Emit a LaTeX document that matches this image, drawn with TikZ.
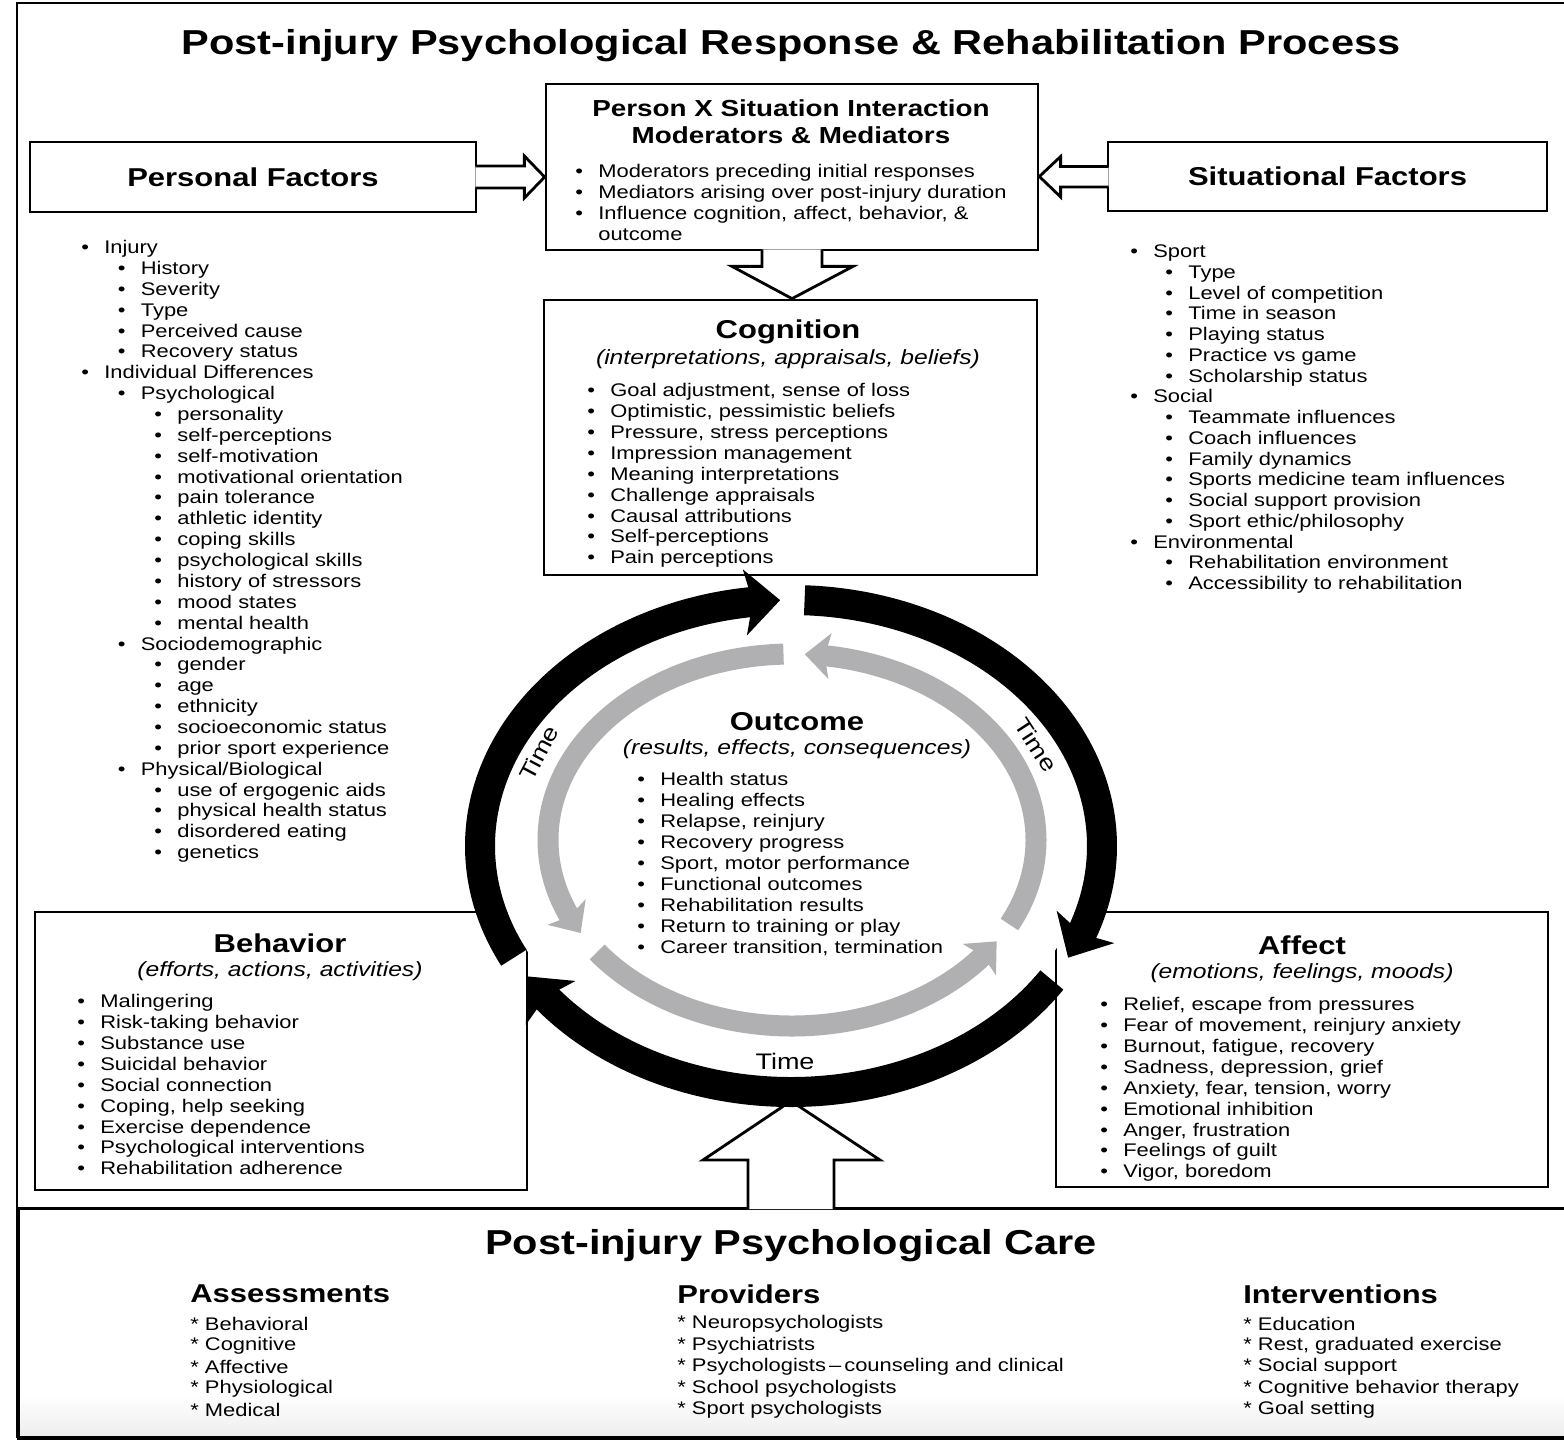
\documentclass[tikz,border=0pt]{standalone}
\usepackage{fontspec}
\setmainfont{Liberation Sans}[FakeStretch=1.2]
\usetikzlibrary{arrows.meta,bending}

\newlength\pxl
\setlength\pxl{0.02cm}
\newcommand\bul{\strut\makebox[23\pxl][l]{\textbullet}}
\definecolor{ringgrey}{RGB}{176,176,178}

\tikzset{
  frame/.style={draw, line width=1.6pt},
  box/.style={frame, inner sep=0pt},
  hollow/.style={line width=1.6pt, fill=white, line join=miter},
  hdr/.style={inner sep=0pt, font=\bfseries\fontsize{14.7}{17}\selectfont},
  sub/.style={inner sep=0pt, font=\itshape\fontsize{11.7}{14}\selectfont},
  item/.style={anchor=west, inner sep=0pt, font=\fontsize{10.4}{11.83}\selectfont},
  timelbl/.style={inner sep=0pt, font=\fontsize{12.8}{15}\selectfont},
  blackband/.style={line width=0.6cm, -{Stealth[length=0.7cm,width=1.3cm,inset=0.15cm]}},
  greyband/.style={ringgrey, line width=0.42cm, -{Stealth[length=0.5cm,width=0.9cm,inset=0.1cm]}},
}

\begin{document}
\begin{tikzpicture}[x=0.02cm, y=-0.02cm]
\useasboundingbox (0,0) rectangle (1564,1440);

% frame and care panel
\fill[top color=white, bottom color=black!7] (17,1395) rectangle (1564,1437);
\draw[frame] (17,3) rectangle (1590,1437);
\node[box, anchor=north west, minimum width=31.5cm, minimum height=4.6cm] (care) at (17,1207) {};

% boxes
\node[box, minimum width=9.84cm, minimum height=3.32cm] (pxs) at (792,167) {};
\node[box, minimum width=9.86cm, minimum height=5.5cm] (cog) at (790.5,437.5) {};
\node[box, hdr, minimum width=8.92cm, minimum height=1.4cm] (pers) at (253,177) {Personal Factors};
\node[box, hdr, minimum width=8.78cm, minimum height=1.38cm] (sit) at (1327.5,176.5) {Situational Factors};
\node[box, minimum width=9.84cm, minimum height=5.56cm] (beh) at (281,1051) {};
\node[box, minimum width=9.84cm, minimum height=5.5cm] (aff) at (1302,1049.5) {};

% hollow arrows
\filldraw[hollow] ([shift={(-2,-11)}]pers.east) -- ++(49,0) -- ++(0,-10) -- (pers.east -| pxs.west)
  -- ([shift={(47,21)}]pers.east) -- ++(0,-10) -- ++(-49,0);
\filldraw[hollow] ([shift={(2,-10)}]sit.west) -- ++(-48,0) -- ++(0,-10) -- (sit.west -| pxs.east)
  -- ([shift={(-46,20.5)}]sit.west) -- ++(0,-10) -- ++(48,0);
\filldraw[hollow] ([shift={(-30,-2)}]pxs.south) -- ++(0,17) -- ++(-30,0) -- (pxs.south |- cog.north)
  -- ([shift={(61,15)}]pxs.south) -- ++(-31,0) -- ++(0,-17);

\coordinate (ringc) at (791,846);
\coordinate (greyc) at (792,840);
\coordinate (ringbot) at (791,1101);
\coordinate (carein) at (care.north -| ringbot);
\filldraw[hollow] ([shift={(-43,2)}]carein) -- ++(0,-49) -- ++(-45,0) -- (ringbot)
  -- ([shift={(89,-47)}]carein) -- ++(-46,0) -- ++(0,49);

% time ring
\fill[white] (ringc) ellipse [x radius=296, y radius=231];
\foreach \a/\b in {-207/-92, -87.5/27, 33/148}
  \draw[blackband] (ringc) ++(\a:311 and 246) arc[start angle=\a, end angle=\b, x radius=311, y radius=246];
\foreach \a/\b in {27/-87, -92/-210, 143/33}
  \draw[greyband] (greyc) ++(\a:244 and 186) arc[start angle=\a, end angle=\b, x radius=244, y radius=186];
\node[timelbl, rotate=62] (timel) at (539,753) {Time};
\node[timelbl, rotate=-57] (timer) at (1036,745) {Time};
\node[timelbl] (timeb) at (785,1061) {Time};

% titles
\node[inner sep=0pt, font=\bfseries\fontsize{19.7}{23}\selectfont] (title) at (791,46) {Post-injury Psychological Response \& Rehabilitation Process};
\node[inner sep=0pt, align=center, font=\bfseries\fontsize{13.2}{15.3}\selectfont] (pxst) at (791,122) {Person X Situation Interaction\\Moderators \& Mediators};
\node[hdr] (cogt) at (788,332) {Cognition};
\node[sub] (cogs) at (788,359) {(interpretations, appraisals, beliefs)};
\node[hdr] (outt) at (797,722) {Outcome};
\node[sub] (outs) at (797,749) {(results, effects, consequences)};
\node[hdr] (beht) at (280,943) {Behavior};
\node[sub] (behs) at (280,971) {(efforts, actions, activities)};
\node[hdr] (afft) at (1302,945) {Affect};
\node[sub] (affs) at (1302,973) {(emotions, feelings, moods)};

% lists
\node[item] (px1) at (575,173) {\bul Moderators preceding initial responses};
\node[item] (px2) at (575,194) {\bul Mediators arising over post-injury duration};
\node[item] (px3) at (575,215) {\bul Influence cognition, affect, behavior, \&};
\node[item] (px4) at (575,236) {\strut\hspace*{23\pxl}outcome};

\foreach \l/\t [count=\i] in {0/Injury, 1/History, 1/Severity, 1/Type, 1/Perceived cause,
  1/Recovery status, 0/Individual Differences, 1/Psychological, 2/personality, 2/self-perceptions,
  2/self-motivation, 2/motivational orientation, 2/pain tolerance, 2/athletic identity,
  2/coping skills, 2/psychological skills, 2/history of stressors, 2/mood states,
  2/mental health, 1/Sociodemographic, 2/gender, 2/age, 2/ethnicity, 2/socioeconomic status,
  2/prior sport experience, 1/{Physical/Biological}, 2/use of ergogenic aids,
  2/physical health status, 2/disordered eating, 2/genetics}
  \node[item] (pf\i) at ({81+36.5*\l},{249.5+20.86*(\i-1)}) {\bul\t};

\foreach \l/\t [count=\i] in {0/Sport, 1/Type, 1/Level of competition, 1/Time in season,
  1/Playing status, 1/Practice vs game, 1/Scholarship status, 0/Social, 1/Teammate influences,
  1/Coach influences, 1/Family dynamics, 1/Sports medicine team influences,
  1/Social support provision, 1/{Sport ethic/philosophy}, 0/Environmental,
  1/Rehabilitation environment, 1/Accessibility to rehabilitation}
  \node[item] (sf\i) at ({1130+35*\l},{253.5+20.75*(\i-1)}) {\bul\t};

\foreach \t [count=\i] in {{Goal adjustment, sense of loss}, {Optimistic, pessimistic beliefs},
  {Pressure, stress perceptions}, Impression management, Meaning interpretations,
  Challenge appraisals, Causal attributions, Self-perceptions, Pain perceptions}
  \node[item] (cg\i) at (587,{392.5+20.9*(\i-1)}) {\bul\t};

\foreach \t [count=\i] in {Health status, Healing effects, {Relapse, reinjury}, Recovery progress,
  {Sport, motor performance}, Functional outcomes, Rehabilitation results,
  Return to training or play, {Career transition, termination}}
  \node[item] (oc\i) at (637,{781.5+21*(\i-1)}) {\bul\t};

\foreach \t [count=\i] in {Malingering, Risk-taking behavior, Substance use, Suicidal behavior,
  Social connection, {Coping, help seeking}, Exercise dependence, Psychological interventions,
  Rehabilitation adherence}
  \node[item] (bh\i) at (77,{1003.5+20.9*(\i-1)}) {\bul\t};

\foreach \t [count=\i] in {{Relief, escape from pressures}, {Fear of movement, reinjury anxiety},
  {Burnout, fatigue, recovery}, {Sadness, depression, grief}, {Anxiety, fear, tension, worry},
  Emotional inhibition, {Anger, frustration}, Feelings of guilt, {Vigor, boredom}}
  \node[item] (af\i) at (1100,{1006.5+20.9*(\i-1)}) {\bul\t};

% care panel
\node[inner sep=0pt, font=\bfseries\fontsize{19.7}{23}\selectfont] (caret) at (791,1246) {Post-injury Psychological Care};
\node[hdr, anchor=west] (asst) at (190,1294) {Assessments};
\node[hdr, anchor=west] (prot) at (677,1294) {Providers};
\node[hdr, anchor=west] (intt) at (1243,1294) {Interventions};
\foreach \t [count=\i] in {Behavioral, Cognitive, Affective, Physiological, Medical}
  \node[item] (as\i) at (190,{1324+21.5*(\i-1)}) {* \t};
\foreach \t [count=\i] in {Neuropsychologists, Psychiatrists, {Psychologists\,--\,counseling and clinical},
  School psychologists, Sport psychologists}
  \node[item] (pr\i) at (677,{1324+21.5*(\i-1)}) {* \t};
\foreach \t [count=\i] in {Education, {Rest, graduated exercise}, Social support,
  Cognitive behavior therapy, Goal setting}
  \node[item] (iv\i) at (1243,{1324+21.5*(\i-1)}) {* \t};
\end{tikzpicture}
\end{document}
